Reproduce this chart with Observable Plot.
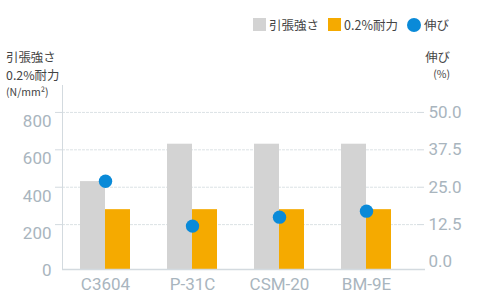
<!DOCTYPE html>
<html><head><meta charset="utf-8">
<script src="https://cdn.jsdelivr.net/npm/d3@7"></script>
<script src="https://cdn.jsdelivr.net/npm/@observablehq/plot@0.6"></script>
<style>
body{margin:0;background:#fff;}
#wrap{position:relative;width:480px;height:300px;font-family:"Noto Sans CJK JP","Noto Sans",sans-serif;color:#444;overflow:hidden;}
#legend{height:40px;display:flex;justify-content:flex-end;align-items:flex-start;padding-right:31px;padding-top:17px;box-sizing:border-box;font-size:12.5px;line-height:15px;}
#legend .item{display:flex;align-items:center;margin-left:9px;}
#legend .sw{width:13px;height:13px;margin-right:3px;}
#legend .dot{width:14px;height:14px;border-radius:50%;margin-right:3px;}
.ttl{position:absolute;font-size:12.4px;line-height:normal;color:#444;white-space:nowrap;}
.ttl.sm{font-size:10.5px;}
</style></head>
<body>
<div id="wrap">
  <div id="legend"></div>
  <div id="chart"></div>
</div>
<script>
// ---- data ----
const categories = ["C3604", "P-31C", "CSM-20", "BM-9E"];
const tensile = [430, 630, 630, 630];      // 引張強さ (N/mm²)
const proof = [280, 280, 280, 280];        // 0.2%耐力 (N/mm²)
const elongation = [27, 12, 15, 17];       // 伸び (%)
const seriesNames = ["引張強さ", "0.2%耐力", "伸び"];
const leftTicks = [0, 200, 400, 600, 800];
const rightTicks = [0, 12.5, 25, 37.5, 50];
const leftTitle = ["引張強さ", "0.2%耐力", "(N/mm²)"];
const rightTitle = ["伸び", "(%)"];

const colors = ["#d3d3d3", "#f5aa00", "#0a8ad8"];
const k = 800 / 50;           // right axis → left axis scale factor
const yMin = -40, yMax = 944;

const table = categories.map((c, i) => ({category: c, tensile: tensile[i], proof: proof[i], elong: elongation[i] * k}));

// legend
const legend = document.getElementById("legend");
seriesNames.forEach((n, i) => {
  const it = document.createElement("div"); it.className = "item";
  const sw = document.createElement("div"); sw.className = i === 2 ? "dot" : "sw"; sw.style.background = colors[i];
  const t = document.createElement("span"); t.textContent = n;
  it.append(sw, t); legend.append(it);
});
// axis titles
const wrap = document.getElementById("wrap");
function title(text, side, top, small) {
  const d = document.createElement("div");
  d.className = "ttl" + (small ? " sm" : "");
  d.textContent = text;
  d.style.top = top + "px";
  if (side === "left") d.style.left = "6px"; else { d.style.right = "30px"; d.style.textAlign = "right"; }
  wrap.append(d);
}
title(leftTitle[0], "left", 48, false);
title(leftTitle[1], "left", 66, false);
title(leftTitle[2], "left", 84, true);
title(rightTitle[0], "right", 48, false);
title(rightTitle[1], "right", 66, true);

const axisStroke = "#d3dadf", labelFill = "#a9b5be";
const chart = Plot.plot({
  width: 480, height: 260,
  marginTop: 45, marginLeft: 62, marginRight: 64, marginBottom: 31,
  style: {fontFamily: "Roboto, sans-serif", fontSize: "17px", background: "white"},
  x: {domain: categories, paddingInner: 0.425, paddingOuter: 0.24, align: 0.42, axis: null},
  y: {domain: [yMin, yMax], axis: null},
  marks: [
    Plot.ruleY(leftTicks.slice(1), {stroke: "#dce2e5", strokeDasharray: "3,1"}),
    Plot.barY(table, {x: "category", y1: yMin, y2: "tensile", fill: colors[0], insetRight: 25}),
    Plot.barY(table, {x: "category", y1: yMin, y2: "proof", fill: colors[1], insetLeft: 25}),
    Plot.dot(table, {x: "category", y: "elong", r: 6.7, fill: colors[2]}),
    Plot.frame({anchor: "left", stroke: axisStroke}),
    Plot.ruleY([yMin], {stroke: axisStroke, strokeWidth: 1.5, insetRight: -9}),
    Plot.axisY(leftTicks.slice(1), {anchor: "left", tickSize: 7, stroke: axisStroke, tickFormat: () => "", label: null}),
    Plot.axisY(leftTicks, {anchor: "left", tickSize: 0, tickPadding: 11, dy: 9, fill: labelFill, fontSize: 17, label: null}),
    Plot.axisY(rightTicks.slice(1).map(v => v * k), {anchor: "right", tickSize: 7, stroke: axisStroke, tickFormat: () => "", label: null}),
    Plot.axisY(rightTicks.map(v => v * k), {anchor: "right", tickSize: 0, tickPadding: 12, dy: 0, fill: labelFill, fontSize: 17, tickFormat: d => (d / k).toFixed(1), label: null}),
    Plot.axisX({anchor: "bottom", tickSize: 0, tickPadding: 8, fill: labelFill, fontSize: 17, label: null})
  ]
});
document.getElementById("chart").append(chart);
</script>
</body></html>
